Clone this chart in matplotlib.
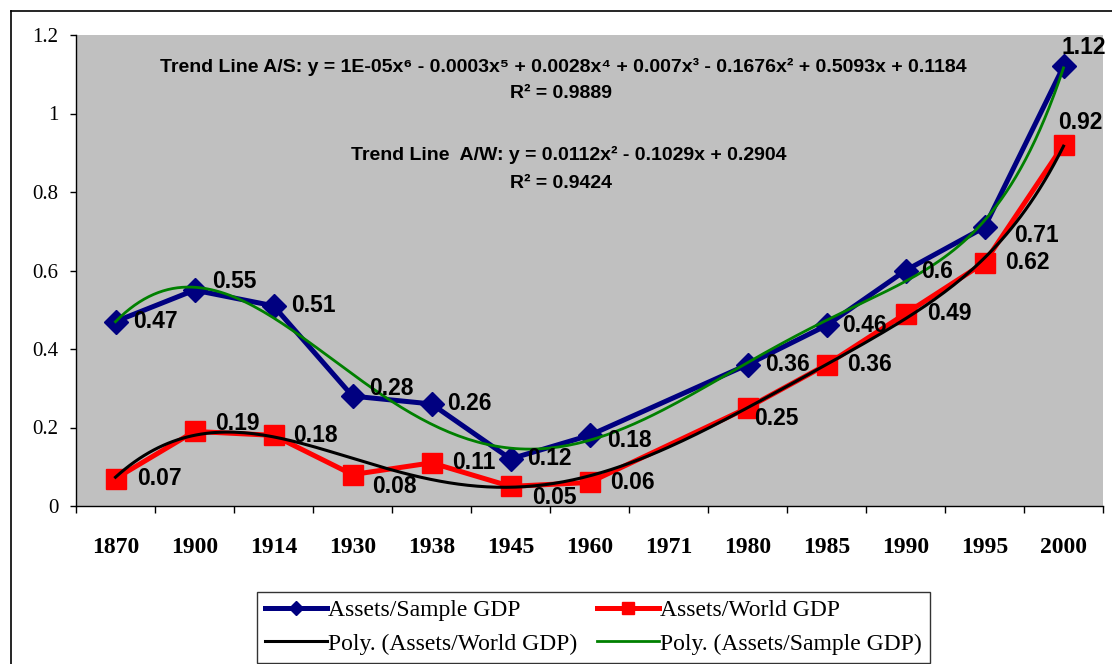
import numpy as np
import matplotlib
matplotlib.use("Agg")
import matplotlib.pyplot as plt
from matplotlib.lines import Line2D

# ----------------------------
# Data
# ----------------------------
years = ["1870", "1900", "1914", "1930", "1938", "1945", "1960",
         "1971", "1980", "1985", "1990", "1995", "2000"]
assets_sample = [0.47, 0.55, 0.51, 0.28, 0.26, 0.12, 0.18,
                 np.nan, 0.36, 0.46, 0.60, 0.71, 1.12]
assets_world = [0.07, 0.19, 0.18, 0.08, 0.11, 0.05, 0.06,
                np.nan, 0.25, 0.36, 0.49, 0.62, 0.92]
sample_labels = ["0.47", "0.55", "0.51", "0.28", "0.26", "0.12", "0.18",
                 "", "0.36", "0.46", "0.6", "0.71", "1.12"]
world_labels = ["0.07", "0.19", "0.18", "0.08", "0.11", "0.05", "0.06",
                "", "0.25", "0.36", "0.49", "0.62", "0.92"]

eq_sample = ("Trend Line A/S: y = 1E-05x\u2076 - 0.0003x\u2075 + 0.0028x\u2074 + "
             "0.007x\u00b3 - 0.1676x\u00b2 + 0.5093x + 0.1184")
r2_sample = "R\u00b2 = 0.9889"
eq_world = "Trend Line  A/W: y = 0.0112x\u00b2 - 0.1029x + 0.2904"
r2_world = "R\u00b2 = 0.9424"

# label offsets in pixels (dx right, dy down) from each marker
sample_off = [(18, 0), (18, -9), (18, 0), (17, -8), (16, 0), (17, 0), (18, 5),
              (0, 0), (18, 0), (16, 0), (16, 1), (30, 8), (-2, -19)]
world_off = [(22, 0), (21, -8), (20, 0), (20, 12), (21, 0), (22, 11), (21, 0),
             (0, 0), (7, 11), (21, 0), (22, 0), (21, 0), (-5, -22)]

NAVY = "#000080"
RED = "#FF0000"
GREEN = "#008000"
GRAY = "#C0C0C0"

SANS = ["Liberation Sans", "DejaVu Sans"]
SERIF = ["Liberation Serif", "DejaVu Serif"]

fig = plt.figure(figsize=(11.12, 6.64), dpi=100)
ax = fig.add_axes([76 / 1112, 1 - 506 / 664, 1027 / 1112, 471 / 664])
ax.set_facecolor(GRAY)

x = np.arange(1, len(years) + 1)
ys = np.array(assets_sample, dtype=float)
yw = np.array(assets_world, dtype=float)
ms = ~np.isnan(ys)
mw = ~np.isnan(yw)

ax.plot(x[ms], ys[ms], color=NAVY, lw=3.6, marker="D", ms=12.5,
        mfc=NAVY, mec=NAVY, zorder=3)
ax.plot(x[mw], yw[mw], color=RED, lw=3.6, marker="s", ms=15,
        mfc=RED, mec=RED, zorder=3)

# polynomial trend lines (6th order, as Excel fit on category index)
xx = np.linspace(1, len(years), 200)
ps = np.polyfit(x[ms], ys[ms], 6)
pw = np.polyfit(x[mw], yw[mw], 6)
ax.plot(xx, np.polyval(pw, xx), color="black", lw=2.2, zorder=4)
ax.plot(xx, np.polyval(ps, xx), color=GREEN, lw=2.0, zorder=4)

# data labels
px = 72 / 100
for xi, yi, lab, (dx, dy) in zip(x, ys, sample_labels, sample_off):
    if lab:
        ax.annotate(lab, (xi, yi), xytext=(dx * px, -dy * px), textcoords="offset points",
                    ha="left", va="center", fontsize=16.5, fontweight="bold",
                    family=SANS, zorder=5)
for xi, yi, lab, (dx, dy) in zip(x, yw, world_labels, world_off):
    if lab:
        ax.annotate(lab, (xi, yi), xytext=(dx * px, -dy * px), textcoords="offset points",
                    ha="left", va="center", fontsize=16.5, fontweight="bold",
                    family=SANS, zorder=5)

# trend equations
def fig_xy(px_x, px_y):
    return px_x / 1112, 1 - px_y / 664

for txt, (tx, ty) in [(eq_sample, (563, 67)), (r2_sample, (561, 94)),
                      (eq_world, (569, 155)), (r2_world, (561, 183))]:
    fx, fy = fig_xy(tx, ty)
    fig.text(fx, fy, txt, ha="center", va="center", fontsize=14,
             fontweight="bold", family=SANS)

# axes styling
ax.set_xlim(0.5, len(years) + 0.5)
ax.set_ylim(0, 1.2)
ax.set_xticks(x)
ax.set_xticklabels(years, fontsize=17, fontweight="bold", family=SERIF)
ax.set_xticks(np.arange(0.5, len(years) + 1), minor=True)
ax.tick_params(axis="x", which="major", length=0, pad=22)
ax.tick_params(axis="x", which="minor", length=5, width=1, direction="out")
ax.set_yticks([0, 0.2, 0.4, 0.6, 0.8, 1.0, 1.2])
ax.set_yticklabels(["0", "0.2", "0.4", "0.6", "0.8", "1", "1.2"],
                   fontsize=15, family=SERIF)
ax.tick_params(axis="y", length=4.5, width=1, direction="out", pad=8)
for s in ["top", "right"]:
    ax.spines[s].set_visible(False)
for s in ["left", "bottom"]:
    ax.spines[s].set_linewidth(1)
    ax.spines[s].set_color("black")

# legend
handles = [
    Line2D([], [], color=NAVY, lw=3.6, marker="D", ms=7, mfc=NAVY, mec=NAVY),
    Line2D([], [], color="black", lw=2.2),
    Line2D([], [], color=RED, lw=3.6, marker="s", ms=9, mfc=RED, mec=RED),
    Line2D([], [], color=GREEN, lw=2.0),
]
labels = ["Assets/Sample GDP", "Poly. (Assets/World GDP)",
          "Assets/World GDP", "Poly. (Assets/Sample GDP)"]
leg = fig.legend(handles, labels, ncol=2, loc="lower left",
                 bbox_to_anchor=(257 / 1112, 1 / 664, 673 / 1112, 76 / 664),
                 mode="expand", borderaxespad=0, frameon=True, fancybox=False,
                 handlelength=2.6, handletextpad=0.05, columnspacing=0.5,
                 labelspacing=0.5, borderpad=0.35,
                 prop={"family": SERIF, "size": 17})
leg.get_frame().set_edgecolor("black")
leg.get_frame().set_linewidth(1)

# outer chart border (left and top)
fig.add_artist(Line2D([11 / 1112, 11 / 1112], [0, 1 - 11 / 664], color="black",
                      lw=1.2, transform=fig.transFigure))
fig.add_artist(Line2D([11 / 1112, 1], [1 - 11 / 664, 1 - 11 / 664], color="black",
                      lw=1.2, transform=fig.transFigure))

fig.savefig("out.png", dpi=100)
